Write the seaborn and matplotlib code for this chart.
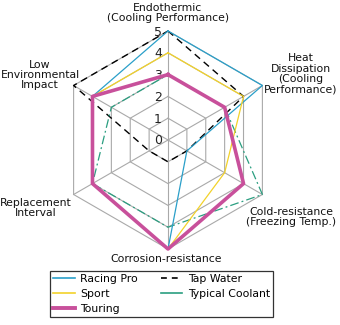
import numpy as np
import pandas as pd
import matplotlib
matplotlib.use("Agg")
import matplotlib.pyplot as plt
import seaborn as sns
from matplotlib.lines import Line2D

# ---------------- data ----------------
categories = [
    "Endothermic\n(Cooling Performance)",
    "Heat\nDissipation\n(Cooling\nPerformance)",
    "Cold-resistance\n(Freezing Temp.)",
    "Corrosion-resistance",
    "Replacement\nInterval",
    "Low\nEnvironmental\nImpact",
]
racing_pro = [5, 5, 1, 5, 4, 4]
sport = [4, 4, 3, 5, 4, 4]
touring = [3, 3, 4, 5, 4, 4]
tap_water = [5, 4, 1, 1, 1, 5]
typical_coolant = [3, 3, 5, 4, 4, 3]
ring_ticks = [0, 1, 2, 3, 4, 5]
series_names = ["Racing Pro", "Sport", "Touring", "Tap Water", "Typical Coolant"]

# ---------------- styles ----------------
W, H = 340, 325
DPI = 100
C_BLUE = "#2a9fc9"
C_YEL = "#f2d22a"
C_PINK = "#c8509b"
C_TEAL = "#2a9e80"
C_GRID = "#a9a9a9"
FS = 7.8

styles = {
    "Tap Water": dict(color="black", lw=1.0, ls=(0, (5, 3.5))),
    "Typical Coolant": dict(color=C_TEAL, lw=0.9, ls=(0, (7, 2.5, 1.5, 2.5))),
    "Racing Pro": dict(color=C_BLUE, lw=0.9, ls="-"),
    "Sport": dict(color=C_YEL, lw=0.9, ls="-"),
    "Touring": dict(color=C_PINK, lw=2.6, ls="-"),
}
values = {
    "Racing Pro": racing_pro,
    "Sport": sport,
    "Touring": touring,
    "Tap Water": tap_water,
    "Typical Coolant": typical_coolant,
}

n = len(categories)
theta = list(np.deg2rad(np.arange(n) * 360.0 / n))
theta_closed = theta + [2 * np.pi]
rmax = ring_ticks[-1]

fig = plt.figure(figsize=(W / DPI, H / DPI), dpi=DPI)
fig.patch.set_facecolor("white")

cx, cy, R = 168, 140, 109
ax = fig.add_axes([(cx - R) / W, (H - cy - R) / H, 2 * R / W, 2 * R / H],
                  projection="polar")
ax.set_theta_offset(np.pi / 2)
ax.set_theta_direction(-1)
ax.set_ylim(0, rmax)
ax.set_xticks([])
ax.set_yticks([])
ax.grid(False)
ax.spines["polar"].set_visible(False)
ax.patch.set_visible(False)

# hexagonal grid
for r in ring_ticks[1:]:
    ax.plot(theta_closed, [r] * (n + 1), color=C_GRID, lw=0.8, zorder=1, clip_on=False)
for t in theta:
    ax.plot([t, t], [0, rmax], color=C_GRID, lw=0.8, zorder=1, clip_on=False)

# ring labels
for r in ring_ticks:
    ax.annotate(str(r), xy=(0, r), xytext=(-10, -1), textcoords="offset pixels",
                ha="center", va="center", fontsize=9, color="#222222", zorder=2)

# series
order = ["Tap Water", "Typical Coolant", "Racing Pro", "Sport", "Touring"]
for i, name in enumerate(order):
    v = values[name]
    df = pd.DataFrame({"theta": theta_closed, "value": list(v) + [v[0]]})
    st = styles[name]
    sns.lineplot(data=df, x="theta", y="value", sort=False, ax=ax,
                 color=st["color"], lw=st["lw"], linestyle=st["ls"],
                 zorder=3 + i, clip_on=False, legend=False)
ax.set_xlabel("")
ax.set_ylabel("")
ax.set_ylim(0, rmax)

# category labels (pixel centres)
def fpx(x, y):
    return x / W, 1 - y / H

label_pos = [(168, 13), (301, 74), (291, 217), (166, 259), (36, 208), (40, 75)]
for text, (x, y) in zip(categories, label_pos):
    fig.text(*fpx(x, y), text, ha="center", va="center", fontsize=FS,
             linespacing=1.05, color="#111111")

# legend
handles = [
    Line2D([], [], color=C_BLUE, lw=1.2),
    Line2D([], [], color=C_YEL, lw=1.2),
    Line2D([], [], color=C_PINK, lw=2.8),
    Line2D([], [], color="black", lw=1.2, ls=(0, (3.5, 3))),
    Line2D([], [], color=C_TEAL, lw=1.2),
]
leg = fig.legend(handles, series_names, ncol=2, loc="upper left",
                 bbox_to_anchor=fpx(50, 271), fontsize=FS, frameon=True,
                 fancybox=False, edgecolor="black", handlelength=2.0,
                 handletextpad=0.5, columnspacing=2.1, labelspacing=0.45,
                 borderpad=0.3, borderaxespad=0)
leg.get_frame().set_linewidth(0.9)

fig.savefig("out.png", dpi=DPI)
